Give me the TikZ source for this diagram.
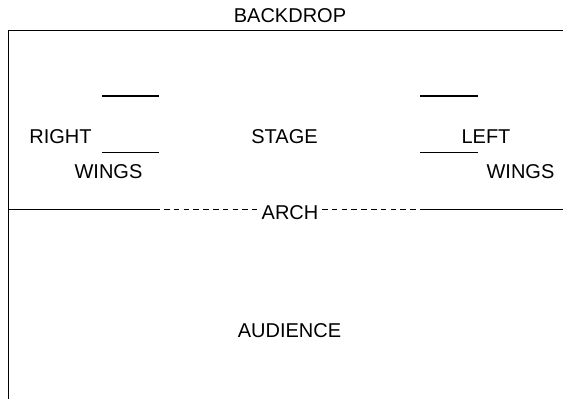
\documentclass[tikz,border=0pt]{standalone}
\usepackage{fontspec}
\setmainfont{Liberation Sans}
\begin{document}
\begin{tikzpicture}[x=1pt,y=-1pt,
  lbl/.style={font=\fontsize{20}{24}\selectfont, inner sep=0pt, anchor=base},
  wall/.style={line width=1.3pt},
  wing/.style={line width=1.3pt},
  archdash/.style={line width=1.3pt, dash pattern=on 5.5pt off 4.3pt}]
\useasboundingbox (0,0) rectangle (563,399);
% walls
\coordinate (tl) at (8.3,30.7);
\coordinate (tr) at (563,30.7);
\coordinate (bl) at (8.3,399);
\draw[wall] (tr) -- (tl) -- (bl);
% wings
\coordinate (rw1a) at (102,96); \coordinate (rw1b) at (159,96);
\coordinate (rw2a) at (102,152.7); \coordinate (rw2b) at (159,152.7);
\coordinate (lw1a) at (420,96); \coordinate (lw1b) at (478,96);
\coordinate (lw2a) at (420,152.7); \coordinate (lw2b) at (478,152.7);
\draw[wing] (rw1a) -- (rw1b);
\draw[wing] (rw2a) -- (rw2b);
\draw[wing] (lw1a) -- (lw1b);
\draw[wing] (lw2a) -- (lw2b);
% labels
\node[lbl] (backdrop) at (290,22.5) {BACKDROP};
\node[lbl] (right) at (60.5,143) {RIGHT};
\node[lbl] (stage) at (284.5,143) {STAGE};
\node[lbl] (left) at (486,143) {LEFT};
\node[lbl] (rwings) at (108.5,178) {WINGS};
\node[lbl] (lwings) at (520.5,178) {WINGS};
\node[lbl] (arch) at (290,219) {ARCH};
\node[lbl] (audience) at (289.5,337) {AUDIENCE};
% arch line
\coordinate (a0) at (8.3,209.5);
\coordinate (a1) at (160,209.5);
\coordinate (a2) at (257,209.5);
\coordinate (a3) at (322,209.5);
\coordinate (a4) at (426,209.5);
\coordinate (a5) at (563,209.5);
\draw[wall] (a0) -- (a1);
\draw[archdash] ([xshift=4pt]a1) -- (a2);
\draw[archdash] (a3) -- (a4);
\draw[wall] (a4) -- (a5);
\end{tikzpicture}
\end{document}
